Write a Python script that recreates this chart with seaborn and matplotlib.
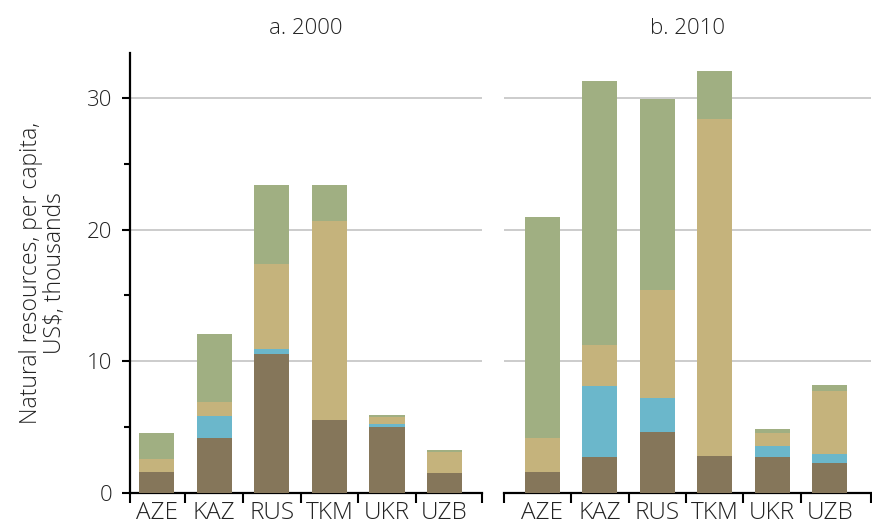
import matplotlib
matplotlib.use("Agg")
import matplotlib.pyplot as plt
from matplotlib.ticker import FixedLocator
import numpy as np
import pandas as pd
import seaborn as sns

countries = ["AZE", "KAZ", "RUS", "TKM", "UKR", "UZB"]
panel_titles = ["a. 2000", "b. 2010"]

# layer values (thousand US$ per capita), bottom to top
brown_2000 = [1.60, 4.18, 10.55, 5.54, 5.00, 1.52]
blue_2000  = [0.00, 1.67, 0.38, 0.00, 0.24, 0.00]
tan_2000   = [0.98, 1.06, 6.46, 15.11, 0.53, 1.59]
green_2000 = [1.98, 5.16, 6.00, 2.75, 0.15, 0.15]

brown_2010 = [1.60, 2.73, 4.63, 2.81, 2.73, 2.28]
blue_2010  = [0.00, 5.39, 2.58, 0.00, 0.84, 0.68]
tan_2010   = [2.58, 3.12, 8.20, 25.59, 0.99, 4.79]
green_2010 = [16.78, 20.04, 14.49, 3.64, 0.30, 0.45]

colors = {"brown": "#85765A", "blue": "#6BB7CB", "tan": "#C5B37C", "green": "#A0AF82"}

sns.set_theme(style="white")
plt.rcParams["font.family"] = ["Open Sans", "DejaVu Sans"]
plt.rcParams["font.weight"] = "light"
plt.rcParams["axes.titleweight"] = "light"
plt.rcParams["axes.labelweight"] = "light"

fig = plt.figure(figsize=(8.72, 5.30), dpi=100)
axes = [fig.add_axes([130/872, 1-493/530, (482-130)/872, (493-53)/530]),
        fig.add_axes([504/872, 1-493/530, (871-504)/872, (493-53)/530])]
xlims = [(-0.46, 5.65), (-0.67, 5.72)]

data = [
    (brown_2000, blue_2000, tan_2000, green_2000),
    (brown_2010, blue_2010, tan_2010, green_2010),
]

for i, (ax, layers) in enumerate(zip(axes, data)):
    br, bl, tn, gr = [np.array(v) for v in layers]
    cum = {
        "green": br + bl + tn + gr,
        "tan": br + bl + tn,
        "blue": br + bl,
        "brown": br,
    }
    for name in ["green", "tan", "blue", "brown"]:
        df = pd.DataFrame({"country": countries, "value": cum[name]})
        sns.barplot(data=df, x="country", y="value", order=countries,
                    color=colors[name], saturation=1, width=0.61,
                    ax=ax, zorder=3, errorbar=None, linewidth=0, edgecolor="none")
    ax.set_ylim(0, 33.4)
    ax.set_xlim(*xlims[i])
    ax.set_xlabel("")
    ax.set_ylabel("")
    ax.yaxis.set_major_locator(FixedLocator([0, 10, 20, 30]))
    ax.yaxis.set_minor_locator(FixedLocator([5, 15, 25]))
    ax.grid(axis="y", which="major", color="#C8C8C8", linewidth=1.3, zorder=0)
    ax.set_axisbelow(True)
    ax.set_xticks(range(len(countries)))
    ax.set_xticklabels(countries, fontsize=17.5, color="#222222")
    ax.tick_params(axis="x", which="major", length=0, pad=6)
    ax.xaxis.set_minor_locator(FixedLocator([xlims[i][0], 0.5, 1.5, 2.5, 3.5, 4.5, xlims[i][1]]))
    ax.tick_params(axis="x", which="minor", bottom=True, length=7, width=1.5, color="black", direction="out")
    for s in ["top", "right"]:
        ax.spines[s].set_visible(False)
    ax.spines["bottom"].set_color("black")
    ax.spines["bottom"].set_linewidth(1.6)
    ax.set_title(panel_titles[i], fontsize=16, color="#222222", pad=14, fontweight="light")
    if i == 0:
        ax.spines["left"].set_color("black")
        ax.spines["left"].set_linewidth(1.6)
        ax.tick_params(axis="y", which="major", left=True, length=6, width=1.5, color="black",
                       labelsize=16, labelcolor="#222222", pad=7)
        ax.tick_params(axis="y", which="minor", left=True, length=4, width=1.5, color="black")
        ax.set_ylabel("Natural resources, per capita,\nUS$, thousands", fontsize=16.5,
                      color="#222222", labelpad=14, linespacing=1.0, fontweight="light")
    else:
        ax.spines["left"].set_visible(False)
        ax.tick_params(axis="y", which="both", left=False, labelleft=False)

fig.savefig("out.png", dpi=100)
